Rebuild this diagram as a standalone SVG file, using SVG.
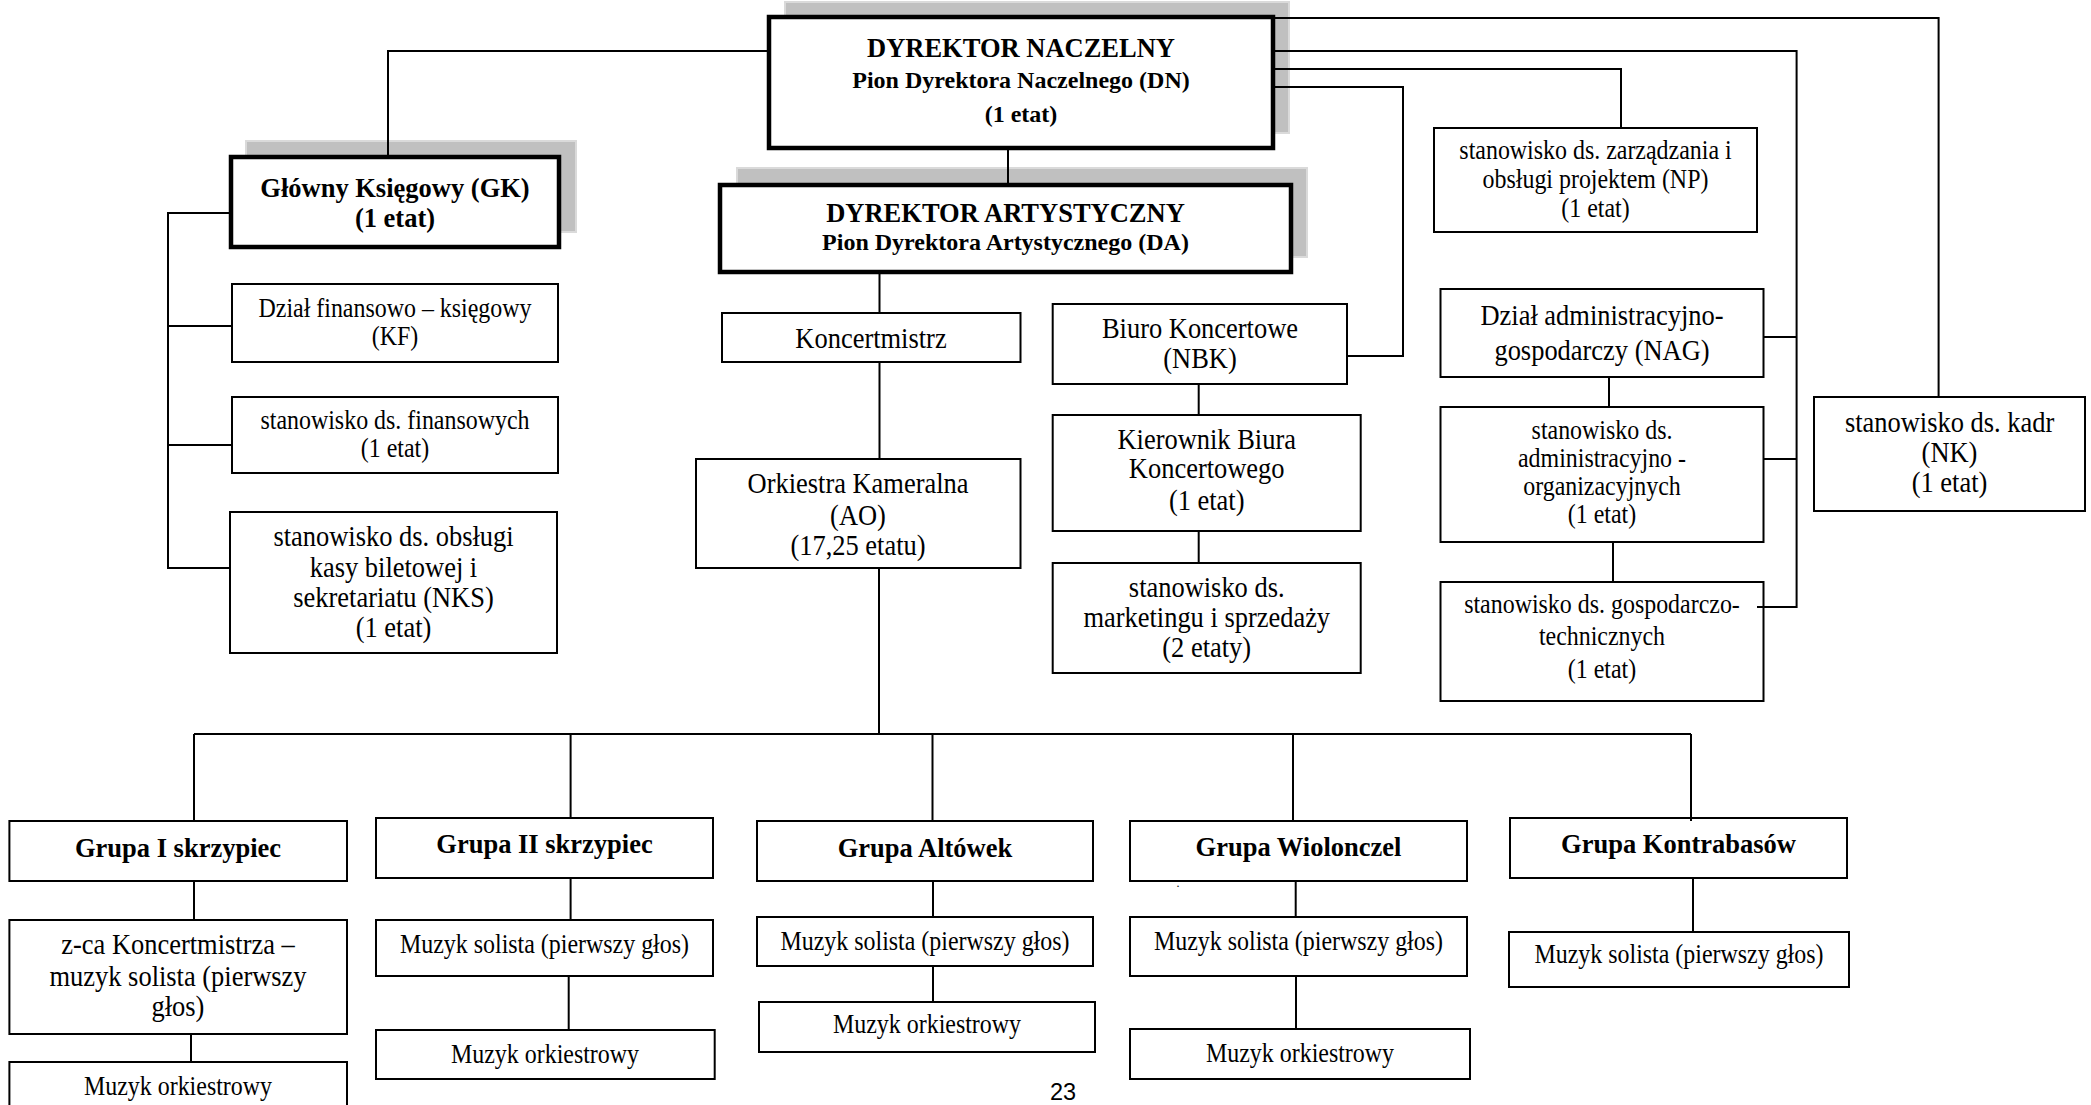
<svg xmlns="http://www.w3.org/2000/svg" width="2091" height="1105" viewBox="0 0 2091 1105">
<style>
.box{fill:#fff;stroke:#000;stroke-width:2}
.thick{fill:#fff;stroke:#000;stroke-width:4.5}
.shadow{fill:#c0c0c0;stroke:#dadada;stroke-width:2}
.ln{stroke:#000;stroke-width:2;fill:none}
text{font-family:"Liberation Serif","Times New Roman",serif;text-anchor:middle;fill:#000}
.r24,.r26{transform-box:fill-box;transform-origin:center;transform:scaleX(.87)}
.r24{font-size:27.5px}
.r26{font-size:30.4px}
.b24{font-size:24px;font-weight:bold}
.b26{font-size:26.5px;font-weight:bold}
.pg{font-family:"Liberation Sans",Arial,sans-serif;font-size:23.5px;text-anchor:start}
</style>
<rect width="2091" height="1105" fill="#fff"/>
<g id="nodes">
<g id="dn">
<rect class="shadow" x="785" y="2" width="504" height="131"/>
<rect class="thick" x="769" y="17" width="504" height="131"/>
<text class="b26" x="1021" y="57">DYREKTOR NACZELNY</text>
<text class="b24" x="1021" y="88">Pion Dyrektora Naczelnego (DN)</text>
<text class="b24" x="1021" y="122">(1 etat)</text>
</g>
<g id="gk">
<rect class="shadow" x="246" y="141" width="330" height="91"/>
<rect class="thick" x="231" y="157" width="328" height="90"/>
<text class="b26" x="395" y="197">Główny Księgowy (GK)</text>
<text class="b26" x="395" y="227">(1 etat)</text>
</g>
<g id="kf">
<rect class="box" x="232" y="284" width="326" height="78"/>
<text class="r24" x="395" y="317">Dział finansowo – księgowy</text>
<text class="r24" x="395" y="345">(KF)</text>
</g>
<g id="fin">
<rect class="box" x="232" y="397" width="326" height="76"/>
<text class="r24" x="395" y="429">stanowisko ds. finansowych</text>
<text class="r24" x="395" y="457">(1 etat)</text>
</g>
<g id="nks">
<rect class="box" x="230" y="512" width="327" height="141"/>
<text class="r26" x="393.5" y="546">stanowisko ds. obsługi</text>
<text class="r26" x="393.5" y="577">kasy biletowej i</text>
<text class="r26" x="393.5" y="607">sekretariatu (NKS)</text>
<text class="r26" x="393.5" y="637">(1 etat)</text>
</g>
<g id="da">
<rect class="shadow" x="737" y="168" width="570" height="89"/>
<rect class="thick" x="720" y="185" width="571" height="87"/>
<text class="b26" x="1005.5" y="222">DYREKTOR ARTYSTYCZNY</text>
<text class="b24" x="1005.5" y="250">Pion Dyrektora Artystycznego (DA)</text>
</g>
<g id="koncertmistrz">
<rect class="box" x="722" y="313" width="298.5" height="49"/>
<text class="r26" x="871" y="348">Koncertmistrz</text>
</g>
<g id="ao">
<rect class="box" x="696" y="459" width="324.5" height="109"/>
<text class="r26" x="858" y="493">Orkiestra Kameralna</text>
<text class="r26" x="858" y="525">(AO)</text>
<text class="r26" x="858" y="555">(17,25 etatu)</text>
</g>
<g id="nbk">
<rect class="box" x="1052.7" y="304" width="294.3" height="80"/>
<text class="r26" x="1200" y="338">Biuro Koncertowe</text>
<text class="r26" x="1200" y="368">(NBK)</text>
</g>
<g id="kierownik">
<rect class="box" x="1052.7" y="415" width="308" height="116"/>
<text class="r26" x="1206.7" y="449">Kierownik Biura</text>
<text class="r26" x="1206.7" y="478">Koncertowego</text>
<text class="r26" x="1206.7" y="510">(1 etat)</text>
</g>
<g id="marketing">
<rect class="box" x="1052.7" y="563" width="308" height="110"/>
<text class="r26" x="1206.7" y="597">stanowisko ds.</text>
<text class="r26" x="1206.7" y="627">marketingu i sprzedaży</text>
<text class="r26" x="1206.7" y="657">(2 etaty)</text>
</g>
<g id="np">
<rect class="box" x="1434" y="128" width="323" height="104"/>
<text class="r24" x="1595.5" y="159">stanowisko ds. zarządzania i</text>
<text class="r24" x="1595.5" y="188">obsługi projektem (NP)</text>
<text class="r24" x="1595.5" y="217">(1 etat)</text>
</g>
<g id="nag">
<rect class="box" x="1440.5" y="289" width="323" height="88"/>
<text class="r26" x="1602" y="325">Dział administracyjno-</text>
<text class="r26" x="1602" y="360">gospodarczy (NAG)</text>
</g>
<g id="admin">
<rect class="box" x="1440.5" y="407" width="323" height="135"/>
<text class="r24" x="1602" y="439">stanowisko ds.</text>
<text class="r24" x="1602" y="467">administracyjno -</text>
<text class="r24" x="1602" y="495">organizacyjnych</text>
<text class="r24" x="1602" y="523">(1 etat)</text>
</g>
<g id="gosp">
<rect class="box" x="1440.5" y="582" width="323" height="119"/>
<text class="r24" x="1602" y="613">stanowisko ds. gospodarczo-</text>
<text class="r24" x="1602" y="645">technicznych</text>
<text class="r24" x="1602" y="678">(1 etat)</text>
</g>
<g id="nk">
<rect class="box" x="1814" y="397" width="271" height="114"/>
<text class="r26" x="1949.5" y="432">stanowisko ds. kadr</text>
<text class="r26" x="1949.5" y="462">(NK)</text>
<text class="r26" x="1949.5" y="492">(1 etat)</text>
</g>
<g id="grupa1">
<rect class="box" x="9.4" y="821" width="337.6" height="60"/>
<text class="b26" x="178" y="857">Grupa I skrzypiec</text>
</g>
<g id="zca">
<rect class="box" x="9.4" y="920" width="337.6" height="114"/>
<text class="r26" x="178" y="954">z-ca Koncertmistrza –</text>
<text class="r26" x="178" y="986">muzyk solista (pierwszy</text>
<text class="r26" x="178" y="1016">głos)</text>
</g>
<g id="ork1">
<rect class="box" x="9.4" y="1062" width="337.6" height="60"/>
<text class="r24" x="178" y="1095">Muzyk orkiestrowy</text>
</g>
<g id="grupa2">
<rect class="box" x="376" y="818" width="337" height="60"/>
<text class="b26" x="544.5" y="853">Grupa II skrzypiec</text>
</g>
<g id="sol2">
<rect class="box" x="376" y="920" width="337" height="56"/>
<text class="r24" x="544.5" y="953">Muzyk solista (pierwszy głos)</text>
</g>
<g id="ork2">
<rect class="box" x="376" y="1030" width="338.7" height="49"/>
<text class="r24" x="545" y="1063">Muzyk orkiestrowy</text>
</g>
<g id="grupa3">
<rect class="box" x="757" y="821" width="336" height="60"/>
<text class="b26" x="925" y="857">Grupa Altówek</text>
</g>
<g id="sol3">
<rect class="box" x="757" y="917" width="336" height="49"/>
<text class="r24" x="925" y="950">Muzyk solista (pierwszy głos)</text>
</g>
<g id="ork3">
<rect class="box" x="759" y="1002" width="336" height="50"/>
<text class="r24" x="927" y="1033">Muzyk orkiestrowy</text>
</g>
<g id="grupa4">
<rect class="box" x="1130" y="821" width="337" height="60"/>
<text class="b26" x="1298.5" y="856">Grupa Wiolonczel</text>
<text x="1178" y="887" style="font-size:12px">.</text>
</g>
<g id="sol4">
<rect class="box" x="1130" y="917" width="337" height="59"/>
<text class="r24" x="1298.5" y="950">Muzyk solista (pierwszy głos)</text>
</g>
<g id="ork4">
<rect class="box" x="1130" y="1029" width="340" height="50"/>
<text class="r24" x="1300" y="1062">Muzyk orkiestrowy</text>
</g>
<g id="grupa5">
<rect class="box" x="1510" y="818" width="337" height="60"/>
<text class="b26" x="1678.5" y="853">Grupa Kontrabasów</text>
</g>
<g id="sol5">
<rect class="box" x="1509" y="932" width="340" height="55"/>
<text class="r24" x="1679" y="963">Muzyk solista (pierwszy głos)</text>
</g>
</g>
<g id="connectors" class="ln">
<polyline points="769,51 388,51 388,157"/>
<polyline points="231,213 168,213 168,568 230,568"/>
<line x1="168" y1="326" x2="232" y2="326"/>
<line x1="168" y1="445" x2="232" y2="445"/>
<line x1="1008" y1="148" x2="1008" y2="185"/>
<line x1="879.5" y1="272" x2="879.5" y2="313"/>
<line x1="879.5" y1="362" x2="879.5" y2="459"/>
<line x1="879" y1="568" x2="879" y2="734"/>
<polyline points="1273,87 1403,87 1403,356 1347,356"/>
<line x1="1198.7" y1="384" x2="1198.7" y2="415"/>
<line x1="1198.7" y1="531" x2="1198.7" y2="563"/>
<polyline points="1273,69 1621,69 1621,128"/>
<polyline points="1273,51 1796.6,51 1796.6,607 1757,607"/>
<line x1="1763.6" y1="337" x2="1796.6" y2="337"/>
<line x1="1763.6" y1="459" x2="1796.6" y2="459"/>
<line x1="1609" y1="377" x2="1609" y2="407"/>
<line x1="1613" y1="542" x2="1613" y2="582"/>
<polyline points="1273,18 1938.6,18 1938.6,397"/>
<line x1="194" y1="734" x2="1691" y2="734"/>
<line x1="194" y1="734" x2="194" y2="821"/>
<line x1="570.6" y1="734" x2="570.6" y2="818"/>
<line x1="932.5" y1="734" x2="932.5" y2="821"/>
<line x1="1293" y1="734" x2="1293" y2="821"/>
<line x1="1691" y1="734" x2="1691" y2="821"/>
<line x1="194" y1="881" x2="194" y2="920"/>
<line x1="191" y1="1034" x2="191" y2="1062"/>
<line x1="570.6" y1="878" x2="570.6" y2="920"/>
<line x1="568.7" y1="976" x2="568.7" y2="1030"/>
<line x1="933" y1="881" x2="933" y2="917"/>
<line x1="933" y1="966" x2="933" y2="1002"/>
<line x1="1295.7" y1="881" x2="1295.7" y2="917"/>
<line x1="1296" y1="976" x2="1296" y2="1029"/>
<line x1="1693" y1="878" x2="1693" y2="932"/>
</g>
<text class="pg" x="1050" y="1100">23</text>
</svg>
